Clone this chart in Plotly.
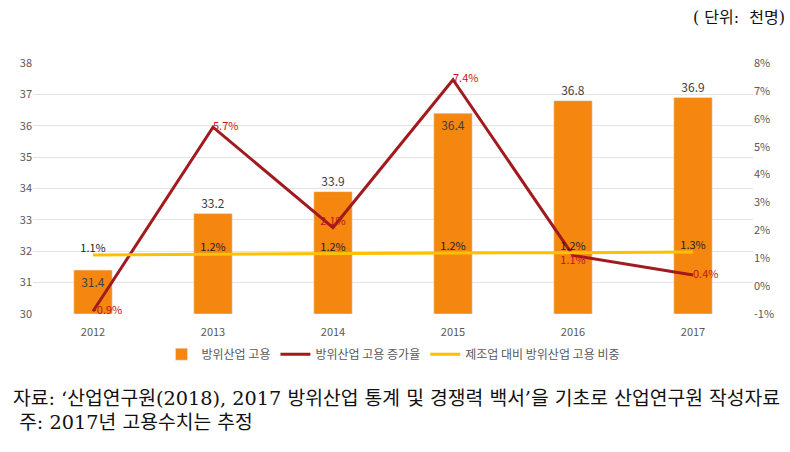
import plotly.graph_objects as go

years = ["2012", "2013", "2014", "2015", "2016", "2017"]
employment = [31.4, 33.2, 33.9, 36.4, 36.8, 36.9]
growth = [-0.9, 5.7, 2.1, 7.4, 1.1, 0.4]
growth_labels = ["-0.9%", "5.7%", "2.1%", "7.4%", "1.1%", "0.4%"]
share = [1.12, 1.15, 1.17, 1.19, 1.20, 1.22]
share_labels = ["1.1%", "1.2%", "1.2%", "1.2%", "1.2%", "1.3%"]
left_ticks = [30, 31, 32, 33, 34, 35, 36, 37, 38]
right_ticks = [-1, 0, 1, 2, 3, 4, 5, 6, 7, 8]

FONT = "Noto Sans CJK KR, Noto Sans, sans-serif"
SERIF = "DejaVu Serif, Noto Sans CJK KR, serif"
GRAY = "#595959"

fig = go.Figure()
fig.add_trace(go.Bar(
    x=years, y=[v - 30 for v in employment], base=30, name="방위산업 고용",
    marker=dict(color="#F5860F"),
    text=[f"{v:.1f}" for v in employment],
    textposition=["inside", "outside", "outside", "inside", "outside", "outside"],
    insidetextanchor="end", constraintext="none",
    textfont=dict(size=12, color="#404040", family=FONT),
    cliponaxis=False, width=0.32,
))
fig.add_trace(go.Scatter(
    x=years, y=growth, yaxis="y2", mode="lines+text", name="방위산업 고용 증가율",
    line=dict(color="#A01A1E", width=3),
    text=growth_labels,
    textposition=["middle right", "middle right", "top center", "middle right", "bottom center", "middle right"],
    textfont=dict(size=11, color="#C0161E", family=FONT),
    cliponaxis=False,
))
fig.add_trace(go.Scatter(
    x=years, y=share, yaxis="y2", mode="lines+text", name="제조업 대비 방위산업 고용 비중",
    line=dict(color="#FFC000", width=3),
    text=share_labels, textposition="top center",
    textfont=dict(size=11, color="#222222", family=FONT),
    cliponaxis=False,
))

fig.update_layout(
    width=790, height=452,
    margin=dict(l=33, r=37, t=63, b=138),
    paper_bgcolor="white", plot_bgcolor="white",
    font=dict(family=FONT, size=11, color=GRAY),
    showlegend=True,
    legend=dict(orientation="h", x=0.5, xanchor="center", y=-0.16, yanchor="middle",
                font=dict(size=12, color=GRAY), itemwidth=30, traceorder="normal"),
    xaxis=dict(type="category", showgrid=False, zeroline=False, showline=False,
               ticks="", ticklabelstandoff=10, tickfont=dict(size=11, color=GRAY)),
    yaxis=dict(range=[30, 38], tickvals=left_ticks, showgrid=True, gridcolor="#E3E3E3",
               gridwidth=1, zeroline=False, showline=False, ticks="",
               tickfont=dict(size=11, color=GRAY)),
    yaxis2=dict(range=[-1, 8], tickvals=right_ticks, ticktext=[f"{t}%" for t in right_ticks],
                overlaying="y", side="right", showgrid=False, zeroline=False,
                showline=False, ticks="", tickfont=dict(size=11, color=GRAY)),
    bargap=0.68,
)

fig.add_annotation(text="( 단위:  천명)", xref="paper", yref="paper", x=1.047, y=1.18,
                   xanchor="right", yanchor="middle", showarrow=False,
                   font=dict(size=16, color="#111111", family=SERIF))
fig.add_annotation(text="자료: ‘산업연구원(2018), 2017 방위산업 통계 및 경쟁력 백서’을 기초로 산업연구원 작성자료",
                   xref="paper", yref="paper", x=-0.03, y=-0.335, xanchor="left", yanchor="middle",
                   showarrow=False, font=dict(size=19.3, color="#111111", family=SERIF))
fig.add_annotation(text=" 주: 2017년 고용수치는 추정",
                   xref="paper", yref="paper", x=-0.03, y=-0.432, xanchor="left", yanchor="middle",
                   showarrow=False, font=dict(size=19.3, color="#111111", family=SERIF))

fig.write_html("out.html")
